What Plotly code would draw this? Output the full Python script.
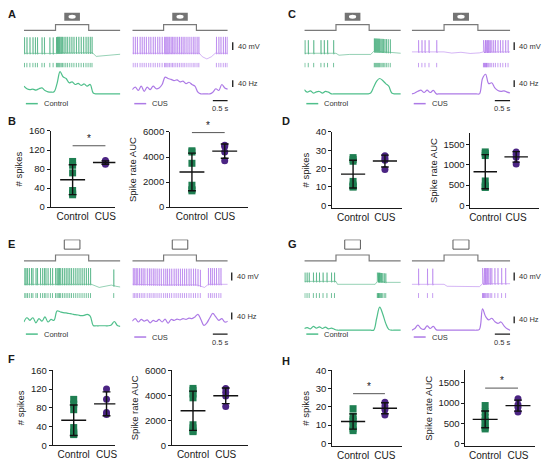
import numpy as np
import plotly.graph_objects as go

W, H = 550, 468
T_END = 3.2
STIM_ON, STIM_OFF = 1.05, 2.15
RATE_T = np.round(np.arange(0, T_END + 0.01, 0.1), 2)
GROUPS = ["Control", "CUS"]

# ---- example traces: spike times (s), membrane baseline knots (t, mV), rate (Hz every 0.1 s)
a_ctrl_spikes = [0.02, 0.10, 0.20, 0.30, 0.38, 0.45, 0.60, 0.68, 0.86, 0.97, 1.08, 1.11, 1.14, 1.17,
                 1.20, 1.24, 1.28, 1.33, 1.39, 1.45, 1.52, 1.59, 1.66, 1.74, 1.82, 1.90, 1.98, 2.06,
                 2.13, 2.20, 2.26]
a_ctrl_vm_t = [0, 1.05, 1.1, 2.26, 2.4, 2.8, 3.2]
a_ctrl_vm = [-57, -58, -55, -55, -73, -67, -62]
a_ctrl_rate = [45, 30, 25, 28, 22, 30, 35, 20, 12, 10, 12, 60, 130, 100, 90, 65, 70, 55, 62, 50, 58,
               45, 55, 5, 0, 0, 0, 0, 0, 0, 0, 0, 0]

a_cus_spikes = [0.03, 0.10, 0.17, 0.26, 0.33, 0.40, 0.47, 0.55, 0.62, 0.70, 0.77, 0.85, 0.92, 1.00,
                1.08, 1.12, 1.16, 1.20, 1.25, 1.30, 1.35, 1.40, 1.46, 1.52, 1.58, 1.64, 1.70, 1.76,
                1.83, 1.90, 1.97, 2.04, 2.10, 2.17, 2.23, 2.82, 2.90, 2.97, 3.05, 3.12, 3.18]
a_cus_vm_t = [0, 2.24, 2.35, 2.5, 2.65, 2.78, 3.2]
a_cus_vm = [-57, -57, -75, -86, -75, -57, -57]
a_cus_rate = [25, 40, 20, 45, 15, 40, 25, 45, 30, 35, 55, 98, 90, 85, 78, 82, 70, 75, 60, 68, 55,
              45, 10, 0, 0, 0, 0, 10, 30, 20, 55, 35, 28]

c_ctrl_spikes = [0.02, 0.13, 0.31, 0.55, 0.66, 0.77, 0.97, 2.32, 2.35, 2.38, 2.41, 2.44, 2.47, 2.50,
                 2.54, 2.58, 2.62, 2.67, 2.72, 2.78, 2.85]
c_ctrl_vm_t = [0, 1.05, 1.15, 1.5, 2.2, 2.3, 2.9, 3.2]
c_ctrl_vm = [-57, -57, -67, -63, -63, -48, -53, -57]
c_ctrl_rate = [25, 10, 18, 5, 12, 14, 5, 15, 10, 0, 0, 0, 0, 0, 0, 0, 0, 0, 0, 0, 0, 0,
               5, 40, 75, 90, 78, 60, 45, 5, 0, 0, 0]

c_cus_spikes = [0.22, 0.33, 0.43, 0.56, 0.81, 2.33, 2.35, 2.37, 2.39, 2.41, 2.43, 2.45, 2.48, 2.51,
                2.55, 2.60, 2.66, 2.72, 2.80, 2.88, 2.96, 3.05, 3.13]
c_cus_vm_t = [0, 1.05, 1.3, 1.6, 1.9, 2.2, 2.3, 3.2]
c_cus_vm = [-50, -50, -56, -52, -58, -55, -50, -50]
c_cus_rate = [0, 5, 15, 22, 8, 22, 8, 20, 0, 0, 0, 0, 0, 0, 0, 0, 0, 0, 0, 0, 0, 0,
              0, 90, 115, 60, 65, 35, 20, 15, 18, 10, 5]

e_ctrl_spikes = [0.03, 0.07, 0.12, 0.18, 0.25, 0.30, 0.40, 0.45, 0.55, 0.62, 0.68, 0.73, 0.80, 0.88,
                 0.95, 1.05, 1.10, 1.14, 1.18, 1.22, 1.28, 1.34, 1.40, 1.46, 1.52, 1.58, 1.65, 1.72,
                 1.79, 1.86, 1.93, 2.00, 2.07, 2.14, 2.21, 2.98]
e_ctrl_vm_t = [0, 2.24, 2.5, 2.9, 3.05, 3.2]
e_ctrl_vm = [-60, -60, -76, -64, -70, -74]
e_ctrl_rate = [25, 50, 35, 50, 20, 45, 30, 55, 25, 40, 35, 90, 85, 80, 78, 75, 72, 68, 66, 62, 64,
               70, 60, 5, 3, 3, 3, 3, 3, 8, 28, 5, 0]

e_cus_spikes = [0.03, 0.08, 0.13, 0.18, 0.24, 0.30, 0.36, 0.42, 0.50, 0.57, 0.63, 0.70, 0.76, 0.83,
                0.90, 0.97, 1.05, 1.12, 1.18, 1.25, 1.32, 1.40, 1.47, 1.54, 1.61, 1.68, 1.75, 1.82,
                1.90, 1.97, 2.05, 2.12, 2.20, 2.28, 2.55, 2.62, 2.68, 2.75, 2.82, 2.90, 2.97]
e_cus_vm_t = [0, 1.05, 2.15, 2.3, 2.42, 2.55, 3.2]
e_cus_vm = [-60, -63, -63, -70, -76, -60, -60]
e_cus_rate = [30, 45, 25, 40, 30, 38, 20, 35, 28, 40, 25, 42, 18, 40, 35, 42, 38, 45, 40, 48, 45,
              55, 70, 40, 5, 20, 50, 75, 55, 35, 45, 25, 30]

g_ctrl_spikes = [0.02, 0.09, 0.16, 0.30, 0.40, 0.50, 0.62, 0.75, 0.90, 1.00, 2.42, 2.44, 2.46, 2.48,
                 2.50, 2.53, 2.56, 2.60, 2.65, 2.70]
g_ctrl_vm_t = [0, 1.05, 1.1, 2.35, 2.42, 2.75, 3.2]
g_ctrl_vm = [-45, -45, -60, -60, -45, -50, -50]
g_ctrl_rate = [10, 15, 8, 22, 12, 20, 10, 18, 8, 12, 5, 0, 0, 0, 0, 0, 0, 0, 0, 0, 0, 0, 0,
               0, 70, 135, 95, 40, 5, 0, 0, 0, 0]

g_cus_spikes = [0.22, 0.51, 0.68, 2.30, 2.32, 2.34, 2.36, 2.39, 2.42, 2.46, 2.50, 2.55, 2.60, 2.70,
                2.80, 2.92, 3.05]
g_cus_vm_t = [0, 1.05, 1.15, 2.2, 2.28, 3.2]
g_cus_vm = [-60, -60, -70, -72, -57, -57]
g_cus_rate = [0, 10, 30, 10, 5, 25, 10, 22, 2, 0, 0, 0, 0, 0, 0, 0, 0, 0, 0, 0, 0, 0,
              5, 125, 80, 60, 70, 50, 40, 48, 25, 8, 0]

# ---- summary data (per cell)
b_spikes_ctrl = [96, 88, 72, 35, 29, 26]
b_spikes_cus = [98, 95, 92, 90]
b_auc_ctrl = [4500, 4400, 3500, 1750, 1400, 1300]
b_auc_cus = [4950, 4850, 4400, 3700]
d_spikes_ctrl = [26, 25, 24, 13, 11, 10, 10]
d_spikes_cus = [27, 25.5, 24.5, 19.5]
d_auc_ctrl = [1320, 1280, 1230, 600, 480, 450, 440]
d_auc_cus = [1320, 1260, 1190, 1020]
f_spikes_ctrl = [98, 88, 76, 38, 28, 24, 23]
f_spikes_cus = [120, 98, 70, 66]
f_auc_ctrl = [4550, 4400, 4100, 3800, 1650, 1400, 1150, 1100]
f_auc_cus = [4550, 4250, 3950, 3100]
h_spikes_ctrl = [19, 15, 13, 12, 10, 8, 7]
h_spikes_cus = [22.5, 20.5, 18.5, 15.5]
h_auc_ctrl = [940, 780, 640, 560, 500, 400, 360]
h_auc_cus = [1110, 960, 900, 780]

CTRL = "rgba(34,158,98,0.8)"
CTRL_RATE = "#4fbf8b"
CUS = "rgba(160,92,232,0.75)"
CUS_RATE = "#ad7ae6"
CTRL_DOT = "#1f7f52"
CUS_DOT = "#4b2483"
INK = "#1a1a1a"

fig = go.Figure()
lay = {}
shapes = []
notes = []
n_ax = 0


def fx(px):
    return px / W


def fy(py):
    return 1 - py / H


def new_axes(x0, x1, y0, y1, xr, yr, show=False):
    global n_ax
    n_ax += 1
    s = "" if n_ax == 1 else str(n_ax)
    lay["xaxis" + s] = dict(domain=[fx(x0), fx(x1)], range=xr, anchor="y" + s,
                            visible=show, fixedrange=True)
    lay["yaxis" + s] = dict(domain=[fy(y1), fy(y0)], range=yr, anchor="x" + s,
                            visible=show, fixedrange=True)
    return s


def add_line(s, x, y, color, width, shape="linear"):
    fig.add_trace(go.Scatter(x=x, y=y, mode="lines", line=dict(color=color, width=width, shape=shape),
                             xaxis="x" + s, yaxis="y" + s, hoverinfo="skip"))


def label(text, x, y, size=7.5, xanchor="left", yanchor="middle", xref="paper", yref="paper"):
    notes.append(dict(text=text, xref=xref, yref=yref, x=x, y=y, xanchor=xanchor, yanchor=yanchor,
                      showarrow=False, font=dict(size=size, color="#333" if size < 9 else INK)))


def vm_path(spikes, knot_t, knot_v, amp):
    pts = list(zip(knot_t, knot_v))
    for t in spikes:
        b = float(np.interp(t, knot_t, knot_v))
        pts += [(t, b), (t + 0.003, b + amp), (t + 0.008, b - 5), (t + 0.018, b)]
    pts.sort()
    return [p[0] for p in pts], [p[1] for p in pts]


def trace_side(x0, x1, top, spikes, vm_t, vm, amp, rate, color, rate_color, icon, rate_dy=0):
    # stimulus step + icon
    s = new_axes(x0, x1, top + 3, top + 27, [0, T_END], [-0.333, 3.667])
    add_line(s, [0, STIM_ON, STIM_ON, STIM_OFF, STIM_OFF, T_END], [0, 0, 1, 1, 0, 0], "#7a7a7a", 1.2)
    mid = (STIM_ON + STIM_OFF) / 2
    if icon == "light":
        shapes.append(dict(type="rect", xref="x" + s, yref="y" + s, x0=mid - 0.26, x1=mid + 0.26,
                           y0=1.67, y1=3.0, fillcolor="#747474", line=dict(width=0)))
        shapes.append(dict(type="circle", xref="x" + s, yref="y" + s, x0=mid - 0.12, x1=mid + 0.12,
                           y0=2.0, y1=2.67, fillcolor="white", line=dict(width=0)))
    else:
        shapes.append(dict(type="rect", xref="x" + s, yref="y" + s, x0=mid - 0.26, x1=mid + 0.26,
                           y0=2.0, y1=3.6, fillcolor="white", line=dict(color="#5a5a5a", width=1)))
    # membrane potential
    v = new_axes(x0, x1, top + 30, top + 56, [0, T_END], [-95, 35])
    vx, vy = vm_path(spikes, vm_t, vm, amp)
    add_line(v, vx, vy, color, 0.6)
    # raster
    r = new_axes(x0, x1, top + 58, top + 63, [0, T_END], [0, 1])
    rx, ry = [], []
    for t in spikes:
        rx += [t, t, None]
        ry += [0, 1, None]
    add_line(r, rx, ry, color, 0.8)
    # firing rate
    q = new_axes(x0, x1, top + 64 + rate_dy, top + 94 + rate_dy, [0, T_END], [-22.9, 148.6])
    add_line(q, RATE_T, rate, rate_color, 1.2, "spline")
    return v, q


def trace_panel(name, lx, rx, top, ctrl, cus, icon, bar_x, rate_dy=0, leg_dy=0):
    trace_side(lx[0], lx[1], top, *ctrl, CTRL, CTRL_RATE, icon, rate_dy)
    v, q = trace_side(rx[0], rx[1], top, *cus, CUS, CUS_RATE, icon, rate_dy)
    # scale bars
    shapes.append(dict(type="line", xref="paper", yref="y" + v, x0=fx(bar_x), x1=fx(bar_x),
                       y0=-40, y1=0, line=dict(color=INK, width=1.3)))
    label("40 mV", fx(bar_x + 3), -20, yref="y" + v)
    shapes.append(dict(type="line", xref="paper", yref="y" + q, x0=fx(bar_x), x1=fx(bar_x),
                       y0=40, y1=80, line=dict(color=INK, width=1.3)))
    label("40 Hz", fx(bar_x + 3), 60, yref="y" + q)
    shapes.append(dict(type="line", xref="x" + q, yref="paper", x0=T_END - 0.5, x1=T_END,
                       y0=fy(top + 97 + leg_dy), y1=fy(top + 97 + leg_dy),
                       line=dict(color=INK, width=1.3)))
    label("0.5 s", T_END - 0.25, fy(top + 98.5 + leg_dy), xanchor="center", yanchor="top",
          xref="x" + q)
    # legends
    for (x0, x1), text, col, dy in [(lx, "Control", CTRL_RATE, 0), (rx, "CUS", CUS_RATE, leg_dy)]:
        ly = fy(top + 100 + dy)
        shapes.append(dict(type="line", xref="paper", yref="paper", x0=fx(x0 + 2), x1=fx(x0 + 14),
                           y0=ly, y1=ly, line=dict(color=col, width=1.5)))
        label(text, fx(x0 + 18), ly)
    label("<b>%s</b>" % name, fx(lx[0] - 18), fy(top + 8), size=11)


def dot_panel(x0, x1, y0, y1, xr, yr, ticks, title, ctrl, cus, sig=None):
    s = new_axes(x0, x1, y0, y1, xr, yr, show=True)
    lay["xaxis" + s].update(showline=True, linecolor=INK, linewidth=1, ticks="", tickvals=[0, 1],
                            ticktext=GROUPS, tickfont=dict(size=10, color=INK), showgrid=False,
                            zeroline=False)
    lay["yaxis" + s].update(showline=True, linecolor=INK, linewidth=1, ticks="outside", ticklen=3,
                            tickcolor=INK, tickvals=ticks, ticktext=[str(t) for t in ticks],
                            tickfont=dict(size=9.5, color=INK), showgrid=False, zeroline=False,
                            title=dict(text=title, font=dict(size=9.5, color=INK), standoff=4))
    for i, (vals, sym, col) in enumerate([(ctrl, "square", CTRL_DOT), (cus, "circle", CUS_DOT)]):
        fig.add_trace(go.Scatter(x=[i] * len(vals), y=vals, mode="markers", cliponaxis=False,
                                 marker=dict(symbol=sym, size=7, color=col), xaxis="x" + s,
                                 yaxis="y" + s, hoverinfo="skip"))
        m, sd = np.mean(vals), np.std(vals, ddof=1)
        add_line(s, [i - 0.38, i + 0.38, None, i, i, None, i - 0.12, i + 0.12, None, i - 0.12, i + 0.12],
                 [m, m, None, m - sd, m + sd, None, m + sd, m + sd, None, m - sd, m - sd], "#111", 1.4)
    if sig is not None:
        add_line(s, [0, 1], [sig, sig], "#555", 1)
        label("*", 0.5, sig, size=10, xanchor="center", yanchor="bottom", xref="x" + s, yref="y" + s)


# ---- trace panels
trace_panel("A", (23, 120), (132, 228), 0,
            (a_ctrl_spikes, a_ctrl_vm_t, a_ctrl_vm, 82, a_ctrl_rate),
            (a_cus_spikes, a_cus_vm_t, a_cus_vm, 84, a_cus_rate), "light", 233)
trace_panel("C", (305, 402), (413, 512), 0,
            (c_ctrl_spikes, c_ctrl_vm_t, c_ctrl_vm, 67, c_ctrl_rate),
            (c_cus_spikes, c_cus_vm_t, c_cus_vm, 60, c_cus_rate), "light", 516)
trace_panel("E", (23, 120), (132, 228), 236,
            (e_ctrl_spikes, e_ctrl_vm_t, e_ctrl_vm, 83, e_ctrl_rate),
            (e_cus_spikes, e_cus_vm_t, e_cus_vm, 83, e_cus_rate), "dark", 232, rate_dy=2, leg_dy=3)
trace_panel("G", (305, 402), (413, 512), 236,
            (g_ctrl_spikes, g_ctrl_vm_t, g_ctrl_vm, 45, g_ctrl_rate),
            (g_cus_spikes, g_cus_vm_t, g_cus_vm, 80, g_cus_rate), "dark", 516, rate_dy=6, leg_dy=3)

# ---- summary panels
SPK = "# spikes"
AUC = "Spike rate AUC"
dot_panel(50, 115, 128, 206, [-0.667, 1.303], [0, 160], [0, 40, 80, 120, 160], SPK,
          b_spikes_ctrl, b_spikes_cus, sig=129)
dot_panel(170, 248, 129, 206, [-0.667, 1.70], [0, 6000], [0, 2000, 4000, 6000], AUC,
          b_auc_ctrl, b_auc_cus, sig=5950)
dot_panel(333, 403, 129, 207, [-0.656, 1.53], [-1.6, 40], [0, 10, 20, 30, 40], SPK,
          d_spikes_ctrl, d_spikes_cus)
dot_panel(472, 541, 130, 207, [-0.48, 1.74], [-73, 1790], [0, 500, 1000, 1500], AUC,
          d_auc_ctrl, d_auc_cus)
dot_panel(52, 115, 373, 450, [-0.64, 1.27], [0, 160], [0, 40, 80, 120, 160], SPK,
          f_spikes_ctrl, f_spikes_cus)
dot_panel(172, 248, 373, 450, [-0.64, 1.67], [0, 6000], [0, 2000, 4000, 6000], AUC,
          f_auc_ctrl, f_auc_cus)
dot_panel(333, 403, 373, 451, [-0.656, 1.53], [-1.6, 40], [0, 10, 20, 30, 40], SPK,
          h_spikes_ctrl, h_spikes_cus, sig=27.2)
dot_panel(467, 537, 373, 451, [-0.6, 1.52], [-73, 1815], [0, 500, 1000, 1500], AUC,
          h_auc_ctrl, h_auc_cus, sig=1372)

for lab, x, y in [("B", 5, 118), ("D", 281, 118), ("F", 5, 362), ("H", 281, 364)]:
    label("<b>%s</b>" % lab, fx(x), fy(y), size=11)

fig.update_layout(
    width=W, height=H, margin=dict(l=0, r=0, t=0, b=0),
    paper_bgcolor="white", plot_bgcolor="white", showlegend=False,
    font=dict(family="Liberation Sans, Arial, sans-serif", color=INK),
    shapes=shapes, annotations=notes, **lay,
)
# drop the browser's default page margin so the 550x468 figure fills the window
fig.write_html("out.html", config={"displayModeBar": False},
               post_script="document.body.style.margin='0px';")
